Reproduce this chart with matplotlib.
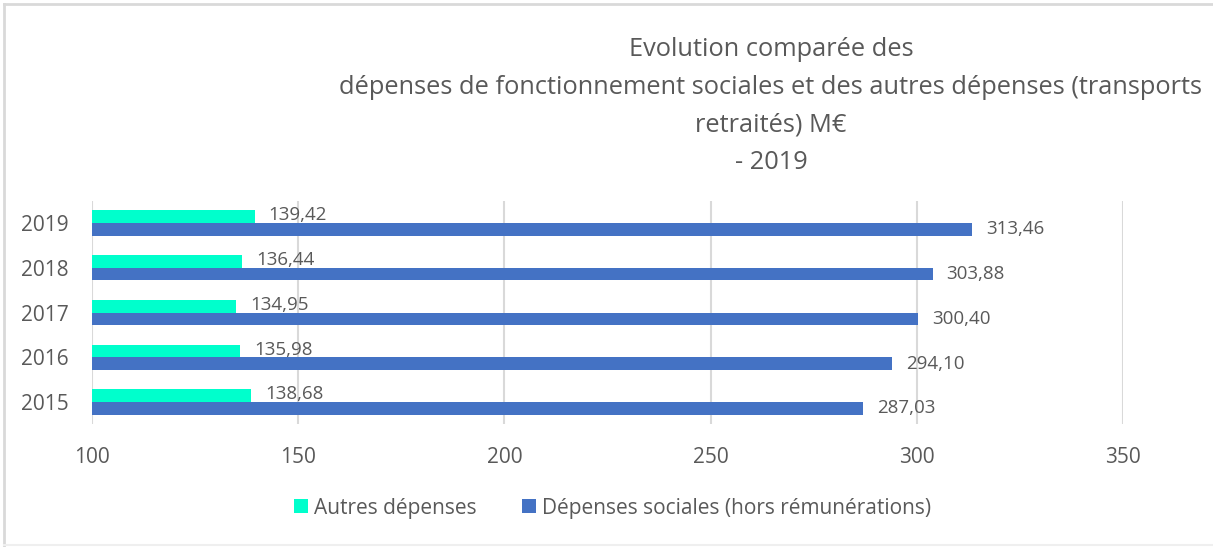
import numpy as np
import matplotlib
matplotlib.use("Agg")
import matplotlib.pyplot as plt
from matplotlib.lines import Line2D

plt.rcParams["font.family"] = ["Open Sans", "DejaVu Sans"]

years = ["2015", "2016", "2017", "2018", "2019"]
autres = [138.68, 135.98, 134.95, 136.44, 139.42]
sociales = [287.03, 294.10, 300.40, 303.88, 313.46]
xticks = [100, 150, 200, 250, 300, 350]

title = ("Evolution comparée des\n"
         "dépenses de fonctionnement sociales et des autres dépenses (transports\n"
         "retraités) M€\n"
         "- 2019")

C_AUT = "#00FFCC"
C_SOC = "#4472C4"
TXT = "#595959"
GRID = "#D9D9D9"

fig = plt.figure(figsize=(12.13, 5.47), dpi=100)
ax = fig.add_axes([0.0758, 0.2241, 0.8500, 0.4092])

y = np.arange(len(years))
h = 0.28
ax.barh(y + h / 2, [a - 100 for a in autres], left=100, height=h, color=C_AUT,
        label="Autres dépenses", zorder=3)
ax.barh(y - h / 2, [s - 100 for s in sociales], left=100, height=h, color=C_SOC,
        label="Dépenses sociales (hors rémunérations)", zorder=3)

def fmt(v):
    return f"{v:.2f}".replace(".", ",")

for yi, a, s in zip(y, autres, sociales):
    ax.annotate(fmt(a), (a, yi + h / 2), xytext=(10, 1), textcoords="offset points",
                va="center", ha="left", fontsize=13.5, color=TXT, zorder=4)
    ax.annotate(fmt(s), (s, yi - h / 2), xytext=(10, 0), textcoords="offset points",
                va="center", ha="left", fontsize=13.5, color=TXT, zorder=4)

ax.set_xlim(100, 350)
ax.set_ylim(-0.5, len(years) - 0.5)
ax.set_xticks(xticks)
ax.set_yticks(y)
ax.set_yticklabels(years)
ax.grid(axis="x", color=GRID, lw=1.5, zorder=0)
for sp in ax.spines.values():
    sp.set_visible(False)
ax.tick_params(length=0, labelsize=15, labelcolor=TXT)
ax.tick_params(axis="x", pad=16)
ax.tick_params(axis="y", pad=17)

fig.text(0.6356, 0.932, title, ha="center", va="top", fontsize=18.3, color=TXT,
         linespacing=1.66)

leg = fig.legend(loc="center", bbox_to_anchor=(0.505, 0.071), ncol=2, frameon=False,
                 fontsize=15, labelcolor=TXT, handlelength=0.66, handleheight=0.66,
                 handletextpad=0.3, columnspacing=2.2)

# chart frame
fig.add_artist(Line2D([0.003, 1.0], [0.993, 0.993], transform=fig.transFigure,
                      color=GRID, lw=2))
fig.add_artist(Line2D([0.003, 0.003], [0.0, 0.993], transform=fig.transFigure,
                      color=GRID, lw=2))
fig.add_artist(Line2D([0.003, 1.0], [0.003, 0.003], transform=fig.transFigure,
                      color="#EFEFEF", lw=1.5))

fig.savefig("out.png", dpi=100)
